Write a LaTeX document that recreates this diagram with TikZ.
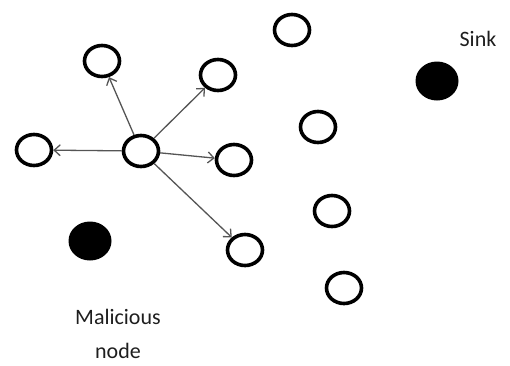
\documentclass[tikz,border=0pt]{standalone}
\usepackage{fontspec}
\setmainfont{Carlito}
\usetikzlibrary{shapes.geometric,arrows.meta}
\begin{document}
\begin{tikzpicture}[x=1pt,y=-1pt,
  sensor/.style={ellipse,draw=black,line width=3.6pt,fill=white,minimum width=35pt,minimum height=31pt,inner sep=0pt},
  blacknode/.style={ellipse,fill=black,minimum width=43pt,minimum height=39pt,inner sep=0pt},
  link/.style={draw={rgb,255:red,85;green,85;blue,85},line width=1.3pt,-{Straight Barb[length=6pt,width=11pt]}},
  lbl/.style={font=\fontsize{22}{26}\selectfont,text={rgb,255:red,30;green,30;blue,30},inner sep=0pt}]
\useasboundingbox (0,0) rectangle (510,365);
\node[sensor] (c) at (141,151) {};
\node[sensor] (tl) at (102,61) {};
\node[sensor] (tr) at (218,75) {};
\node[sensor] (l) at (34,150) {};
\node[sensor] (r) at (234,160) {};
\node[sensor] (br) at (245,250) {};
\node[sensor] (n1) at (292,30) {};
\node[sensor] (n2) at (318,127) {};
\node[sensor] (n3) at (332,211) {};
\node[sensor] (n4) at (344,288) {};
\node[blacknode] (mal) at (90,241) {};
\node[blacknode] (sink) at (437,81) {};
\node[lbl] (sinkl) at (478,39) {Sink};
\node[lbl] (mall1) at (118,317) {Malicious};
\node[lbl] (mall2) at (118,351) {node};
\draw[link] (c) -- (tl);
\draw[link] (c) -- (tr);
\draw[link] (c) -- (l);
\draw[link] (c) -- (r);
\draw[link] (c) -- (br);
\end{tikzpicture}
\end{document}
